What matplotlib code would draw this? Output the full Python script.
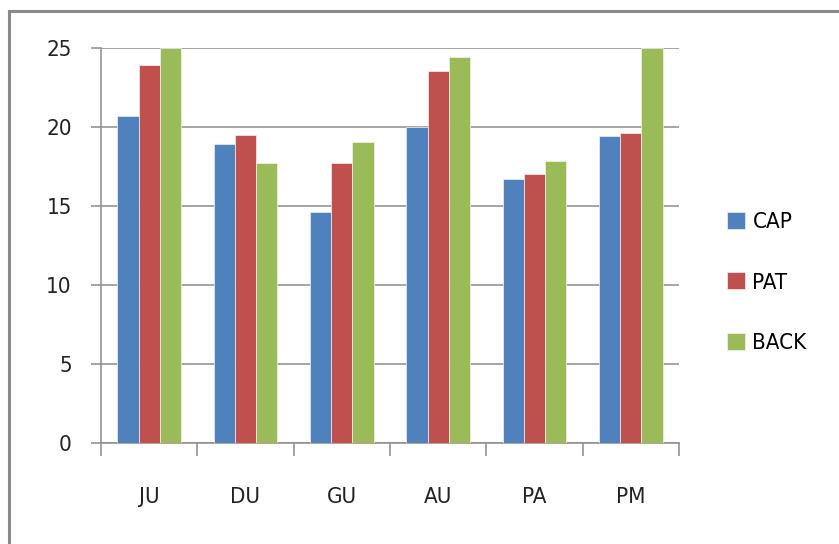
import matplotlib
matplotlib.use("Agg")
import matplotlib.pyplot as plt
from matplotlib.lines import Line2D
import numpy as np

categories = ["JU", "DU", "GU", "AU", "PA", "PM"]
cap = [20.7, 18.9, 14.6, 20.0, 16.7, 19.4]
pat = [23.9, 19.5, 17.7, 23.5, 17.0, 19.6]
back = [25.0, 17.7, 19.0, 24.4, 17.8, 25.0]
series_names = ["CAP", "PAT", "BACK"]
y_ticks = [0, 5, 10, 15, 20, 25]

colors = ["#4F81BD", "#C0504D", "#9BBB59"]
grid_gray = "#8C8C8C"

plt.rcParams["font.family"] = ["DejaVu Sans"]
plt.rcParams["font.stretch"] = "condensed"

W, H = 839, 544
fig = plt.figure(figsize=(W / 100, H / 100), dpi=100)
ax = fig.add_axes([101 / W, 1 - 443 / H, (679 - 101) / W, (443 - 47.5) / H])

x = np.arange(len(categories))
bw = 0.22
bars = []
for i, (vals, c) in enumerate(zip([cap, pat, back], colors)):
    b = ax.bar(x + (i - 1) * bw, vals, bw, color=c, edgecolor="#f2f2f2",
               linewidth=0.5, zorder=3, label=series_names[i])
    bars.append(b)

ax.set_xlim(-0.5, len(categories) - 0.5)
ax.set_ylim(0, 25)
ax.set_yticks(y_ticks)
ax.set_yticklabels([str(v) for v in y_ticks])
ax.yaxis.grid(True, color=grid_gray, linewidth=1.1, zorder=0)
ax.set_axisbelow(True)

ax.set_xticks(x)
ax.set_xticklabels(categories)
ax.set_xticks(np.arange(len(categories) + 1) - 0.5, minor=True)
ax.tick_params(axis="x", which="major", length=0, pad=32, labelsize=16, colors="#222222")
ax.tick_params(axis="x", which="minor", length=9, width=1.1, color=grid_gray, direction="out")
ax.tick_params(axis="y", length=7, width=1.1, color=grid_gray, pad=14, labelsize=16,
               labelcolor="#222222")

for s in ["top", "right"]:
    ax.spines[s].set_visible(False)
for s in ["left", "bottom"]:
    ax.spines[s].set_color(grid_gray)
    ax.spines[s].set_linewidth(1.1)

leg = fig.legend(handles=[b[0] for b in bars], labels=series_names,
                 loc="center left", bbox_to_anchor=(718 / W, 1 - 282.5 / H),
                 frameon=False, fontsize=16, handlelength=0.8, handleheight=0.8,
                 handletextpad=0.35, labelspacing=1.8, borderaxespad=0)

# outer chart frame
fig.add_artist(Line2D([8.5 / W, 1.0], [1 - 10.5 / H, 1 - 10.5 / H], color="#8a8a8a",
                      linewidth=2.2, transform=fig.transFigure))
fig.add_artist(Line2D([8.5 / W, 8.5 / W], [0, 1 - 10.5 / H], color="#8a8a8a",
                      linewidth=2.2, transform=fig.transFigure))

fig.savefig("out.png", dpi=100)
